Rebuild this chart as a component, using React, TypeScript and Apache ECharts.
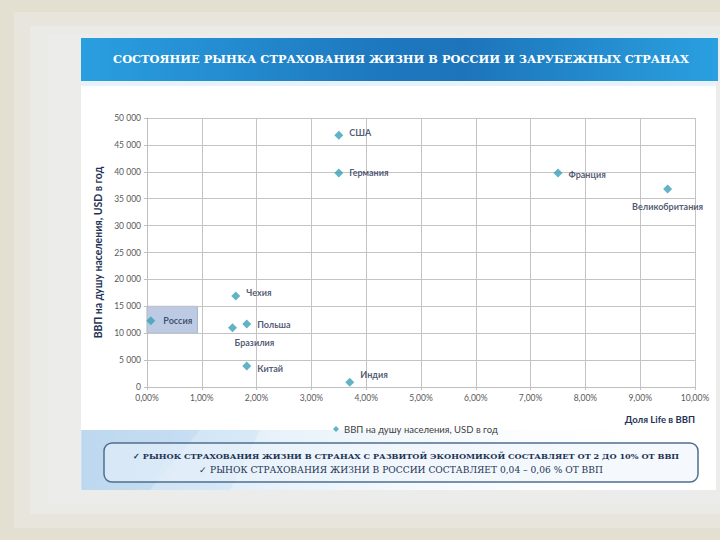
import React, { useEffect, useRef } from "react";
import * as echarts from "echarts";

const countries = ["США", "Германия", "Франция", "Великобритания", "Чехия", "Россия", "Польша", "Бразилия", "Китай", "Индия"];
const lifeShare = [3.5, 3.5, 7.5, 9.5, 1.62, 0.07, 1.82, 1.56, 1.82, 3.7];
const gdpPerCapita = [46800, 39800, 39800, 36800, 16900, 12300, 11700, 11000, 3900, 900];

const titleText = "СОСТОЯНИЕ РЫНКА СТРАХОВАНИЯ ЖИЗНИ В РОССИИ И ЗАРУБЕЖНЫХ СТРАНАХ";
const noteLine1 = "✓ РЫНОК СТРАХОВАНИЯ ЖИЗНИ В СТРАНАХ С РАЗВИТОЙ ЭКОНОМИКОЙ СОСТАВЛЯЕТ ОТ 2 ДО 10% ОТ ВВП";
const noteLine2 = "✓ РЫНОК СТРАХОВАНИЯ ЖИЗНИ В РОССИИ СОСТАВЛЯЕТ 0,04 – 0,06 % ОТ ВВП";
const seriesName = "ВВП на душу населения, USD в год";
const xName = "Доля Life в ВВП";
const yName = "ВВП на душу населения, USD в год";

const labelCfg: Record<string, any> = {
  "США": { position: "right", offset: [0, -3] },
  "Германия": { position: "right" },
  "Франция": { position: "right", offset: [0, 2] },
  "Великобритания": { position: "bottom", distance: 8 },
  "Чехия": { position: "right", offset: [0, -4] },
  "Россия": { position: "right", distance: 8 },
  "Польша": { position: "right" },
  "Бразилия": { position: "bottom", offset: [22, 0], distance: 6 },
  "Китай": { position: "right", offset: [0, 2] },
  "Индия": { position: "right", offset: [0, -8] },
};

export default function App() {
  const ref = useRef<HTMLDivElement>(null);
  useEffect(() => {
    const chart = echarts.init(ref.current!, null, { renderer: "svg" });
    const sans = "Lato";
    const serif = "DejaVu Serif";
    const option: any = {
      animation: false,
      backgroundColor: "#e4e0d1",
      graphic: [
        { type: "rect", z: -10, shape: { x: 14, y: 12, width: 706, height: 516 }, style: { fill: "#e8e6dc" } },
        { type: "rect", z: -10, shape: { x: 30, y: 26, width: 690, height: 488 }, style: { fill: "#eaeae6" } },
        { type: "rect", z: -10, shape: { x: 48, y: 34, width: 672, height: 470 }, style: { fill: "#ececea" } },
        { type: "rect", z: -9, shape: { x: 81, y: 38, width: 635, height: 452 }, style: { fill: "#ffffff" } },
        {
          type: "rect", z: -8, shape: { x: 81, y: 430, width: 635, height: 60 },
          style: {
            fill: new echarts.graphic.LinearGradient(0, 0, 1, 0, [
              { offset: 0, color: "rgba(190,218,240,0.8)" },
              { offset: 0.35, color: "rgba(220,236,248,0.6)" },
              { offset: 1, color: "rgba(255,255,255,0)" },
            ]),
          },
        },
        { type: "polygon", z: -7, shape: { points: [[82, 430], [200, 430], [150, 490], [82, 490]] }, style: { fill: "rgba(170,205,235,0.45)" } },
        { type: "polygon", z: -7, shape: { points: [[180, 430], [260, 430], [230, 490], [150, 490]] }, style: { fill: "rgba(200,224,244,0.45)" } },
        { type: "rect", z: -7, shape: { x: 81, y: 80, width: 635, height: 6 }, style: { fill: "#e6f3fb" } },
        {
          type: "rect", z: -6, shape: { x: 81, y: 38, width: 637, height: 43 },
          style: {
            fill: new echarts.graphic.LinearGradient(0, 0, 1, 0, [
              { offset: 0, color: "#2a9fe0" },
              { offset: 0.45, color: "#1e79c0" },
              { offset: 0.6, color: "#1d74ba" },
              { offset: 1, color: "#2aa0e0" },
            ]),
          },
        },
        {
          type: "text", z: 10, x: 401, y: 59,
          style: { text: titleText, fill: "#ffffff", font: `bold 11.4px "${serif}"`, textAlign: "center", textVerticalAlign: "middle" },
        },
        {
          type: "rect", z: 5, shape: { x: 104, y: 443, width: 594, height: 39, r: 8 },
          style: { fill: "rgba(236,244,251,0.55)", stroke: "#4f6f8f", lineWidth: 1.5 },
        },
        {
          type: "text", z: 10, x: 406, y: 456,
          style: { text: noteLine1, fill: "#1f3455", font: `bold 8.2px "${serif}"`, textAlign: "center", textVerticalAlign: "middle" },
        },
        {
          type: "text", z: 10, x: 401, y: 470,
          style: { text: noteLine2, fill: "#1f3455", font: `9.1px "${serif}"`, textAlign: "center", textVerticalAlign: "middle" },
        },
      ],
      grid: { left: 147, right: 25, top: 118, bottom: 153, containLabel: false },
      legend: {
        data: [{ name: seriesName, icon: "diamond" }],
        left: 328, top: 419,
        itemWidth: 6, itemHeight: 6, itemGap: 4,
        textStyle: { fontFamily: sans, fontSize: 9.5, color: "#404040" },
      },
      xAxis: {
        type: "value", min: 0, max: 10, interval: 1,
        name: xName, nameLocation: "end", nameGap: 0,
        nameTextStyle: { fontFamily: sans, fontSize: 9.5, fontWeight: "bold", color: "#1f3455", align: "right", verticalAlign: "top", padding: [27, 0, 0, 0] },
        axisLine: { show: true, lineStyle: { color: "#bfbfbf" } },
        axisTick: { show: true, length: 3, lineStyle: { color: "#bfbfbf" } },
        axisLabel: { fontFamily: sans, fontSize: 8.5, color: "#595959", margin: 6, formatter: (v: number) => v.toFixed(2).replace(".", ",") + "%" },
        splitLine: { show: true, lineStyle: { color: "#c4c4c4", width: 1 } },
      },
      yAxis: {
        type: "value", min: 0, max: 50000, interval: 5000,
        name: yName, nameLocation: "middle", nameGap: 36,
        nameTextStyle: { fontFamily: sans, fontSize: 10.5, fontWeight: "bold", color: "#1f3455" },
        axisLine: { show: true, lineStyle: { color: "#bfbfbf" } },
        axisTick: { show: true, length: 3, lineStyle: { color: "#bfbfbf" } },
        axisLabel: { fontFamily: sans, fontSize: 8.5, color: "#595959", margin: 6, formatter: (v: number) => String(v).replace(/\B(?=(\d{3})+(?!\d))/g, " ") },
        splitLine: { show: true, lineStyle: { color: "#c4c4c4", width: 1 } },
      },
      series: [
        {
          name: seriesName,
          type: "scatter",
          symbol: "diamond",
          symbolSize: 9,
          itemStyle: { color: "#39a0b6" },
          label: { show: true, formatter: "{b}", fontFamily: sans, fontSize: 9, fontWeight: "bold", color: "#1f3050", distance: 6 },
          data: countries.map((c, i) => ({ name: c, value: [lifeShare[i], gdpPerCapita[i]], label: labelCfg[c] })),
          markArea: {
            silent: true,
            itemStyle: { color: "#bccbe3", borderColor: "#a3b5d2", borderWidth: 1 },
            data: [[{ coord: [0, 10000] }, { coord: [0.92, 15000] }]],
            z: -1,
          },
        },
      ],
    };
    chart.setOption(option);
    return () => chart.dispose();
  }, []);
  return <div ref={ref} style={{ position: "fixed", left: 0, top: 0, width: 720, height: 540 }} />;
}
